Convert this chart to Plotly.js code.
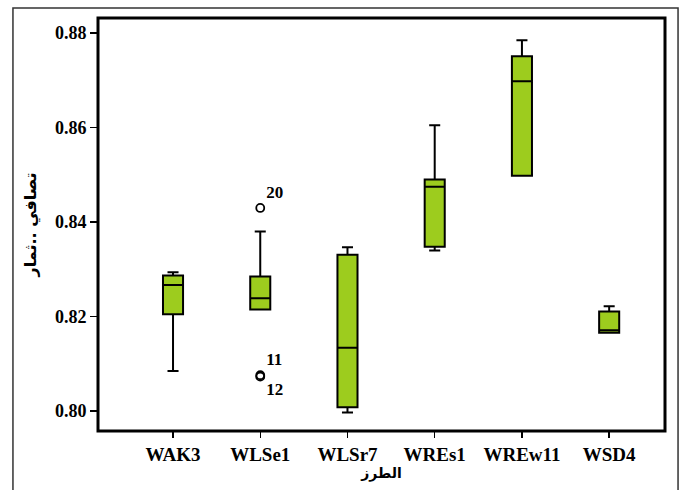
<!DOCTYPE html>
<html>
<head>
<meta charset="utf-8">
<script src="https://cdn.plot.ly/plotly-3.0.1.min.js"></script>
<style>html,body{margin:0;padding:0;background:#fff;}#chart{width:683px;height:490px;}</style>
</head>
<body>
<div id="chart"></div>
<script>
// ---- data ----
const categories = ['WAK3', 'WLSe1', 'WLSr7', 'WREs1', 'WREw11', 'WSD4'];
const lowerWhisker = [0.8085, 0.8215, 0.7997, 0.8340, 0.8498, 0.8166];
const q1Values     = [0.8205, 0.8215, 0.8008, 0.8348, 0.8498, 0.8166];
const medianValues = [0.8267, 0.8239, 0.8134, 0.8475, 0.8698, 0.8171];
const q3Values     = [0.8287, 0.8285, 0.8331, 0.8490, 0.8751, 0.8211];
const upperWhisker = [0.8294, 0.8380, 0.8347, 0.8605, 0.8785, 0.8222];

const outlierCats = ['WLSe1', 'WLSe1', 'WLSe1'];
const outlierVals = [0.8430, 0.8076, 0.8073];
const outlierIds  = ['20', '11', '12'];
const outlierTextPos = ['top right', 'top right', 'bottom right'];

const yTicks = [0.80, 0.82, 0.84, 0.86, 0.88];
const xTitle = 'الطرز';
const yTitle = 'تصافي ..ثمار';

const serif = 'Liberation Serif, Times New Roman, serif';
const arabic = 'DejaVu Sans, Noto Sans, sans-serif';

const traces = [
  {
    type: 'box',
    x: categories,
    q1: q1Values,
    median: medianValues,
    q3: q3Values,
    lowerfence: lowerWhisker,
    upperfence: upperWhisker,
    width: 0.23,
    whiskerwidth: 0.55,
    fillcolor: '#9dcc1e',
    line: {color: '#000000', width: 2},
    boxpoints: false,
    hoverinfo: 'skip',
    showlegend: false
  },
  {
    type: 'scatter',
    mode: 'markers+text',
    x: outlierCats,
    y: outlierVals,
    text: outlierIds,
    textposition: outlierTextPos,
    textfont: {family: serif, size: 17, color: '#000', weight: 'bold'},
    marker: {symbol: 'circle-open', size: 8, color: '#000', line: {width: 1.8, color: '#000'}},
    cliponaxis: false,
    hoverinfo: 'skip',
    showlegend: false
  }
];

const layout = {
  width: 683,
  height: 490,
  margin: {l: 98, r: 18, t: 18, b: 59},
  paper_bgcolor: '#ffffff',
  plot_bgcolor: '#ffffff',
  showlegend: false,
  font: {family: serif, color: '#000'},
  xaxis: {
    type: 'category',
    categoryorder: 'array',
    categoryarray: categories,
    range: [-0.86, 5.64],
    showgrid: false,
    zeroline: false,
    showline: false,
    ticks: 'outside',
    ticklen: 6,
    tickwidth: 1.5,
    tickcolor: '#000',
    tickfont: {family: serif, size: 19, color: '#000', weight: 'bold'},
    title: {text: xTitle, font: {family: arabic, size: 14, color: '#000', weight: 'bold'}, standoff: 2},
    automargin: false
  },
  yaxis: {
    range: [0.7958, 0.8832],
    tickvals: yTicks,
    tickformat: '.2f',
    showgrid: false,
    zeroline: false,
    showline: false,
    ticks: 'outside',
    ticklen: 7,
    tickwidth: 1.5,
    tickcolor: '#000',
    tickfont: {family: serif, size: 18, color: '#000', weight: 'bold'},
    title: {text: yTitle, font: {family: arabic, size: 16, color: '#000', weight: 'bold'}, standoff: 14},
    automargin: false
  },
  shapes: [
    {type: 'rect', xref: 'paper', yref: 'paper', x0: 0, x1: 1, y0: 0, y1: 1,
     line: {color: '#000', width: 3}, fillcolor: 'rgba(0,0,0,0)', layer: 'above'},
    {type: 'rect', xref: 'paper', yref: 'paper', x0: -0.15, x1: 1.023, y0: -0.25, y1: 1.024,
     line: {color: '#333', width: 1.5}, fillcolor: 'rgba(0,0,0,0)', layer: 'above'}
  ]
};

Plotly.newPlot('chart', traces, layout, {displayModeBar: false, staticPlot: true});
</script>
</body>
</html>
